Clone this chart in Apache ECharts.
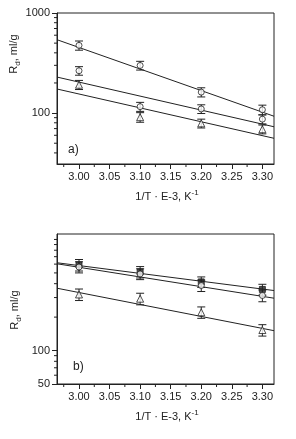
<!DOCTYPE html>
<html>
<head>
<meta charset="utf-8">
<script src="https://cdn.jsdelivr.net/npm/echarts@6/dist/echarts.min.js"></script>
<style>
  html, body { margin: 0; padding: 0; background: #fff; }
  #chart { width: 296px; height: 439px; }
</style>
</head>
<body>
<div id="chart"></div>
<script>
// x positions of the measurements (1/T * 1e3)
const xValues = [3.00, 3.10, 3.20, 3.30];
const xTicks = [3.00, 3.05, 3.10, 3.15, 3.20, 3.25, 3.30];
const xMinorTicks = [2.975, 3.025, 3.075, 3.125, 3.175, 3.225, 3.275];
const fitX = [2.964, 3.319];

// panel a)
const aCircle1 = [475, 299, 162, 108];
const aCircle1Err = [50, 30, 17, 12];
const aCircle2 = [265, 116, 110, 87];
const aCircle2Err = [26, 12, 11, 9];
const aTriangle = [192, 91, 79, 69];
const aTriangleErr = [20, 10, 8, 7];
const aFit1 = [541, 93];
const aFit2 = [229, 73];
const aFit3 = [174, 56];
const aRange = [31, 1000];
const aLabelTicks = [100, 1000];
const aMinorTicks = [40, 50, 60, 70, 80, 90, 200, 300, 400, 500, 600, 700, 800, 900];

// panel b)
const bSquare = [590, 510, 415, 355];
const bSquareErr = [70, 60, 45, 40];
const bCircle = [565, 490, 385, 313];
const bCircleErr = [65, 55, 45, 38];
const bTriangle = [320, 293, 221, 153];
const bTriangleErr = [38, 35, 26, 18];
const bFit1 = [617, 347];
const bFit2 = [604, 296];
const bFit3 = [364, 151];
const bRange = [50, 1120];
const bLabelTicks = [50, 100];
const bMinorTicks = [60, 70, 80, 90, 200, 300, 400, 500, 600, 700, 800, 900, 1000];

const ink = '#222';
const font = 'Liberation Sans';

function errRender(params, api) {
    const x = api.value(0);
    const lo = api.coord([x, api.value(1)]);
    const hi = api.coord([x, api.value(2)]);
    const w = 4;
    const st = { stroke: ink, lineWidth: 1 };
    return {
        type: 'group',
        children: [
            { type: 'line', shape: { x1: lo[0], y1: lo[1], x2: hi[0], y2: hi[1] }, style: st },
            { type: 'line', shape: { x1: lo[0] - w, y1: lo[1], x2: lo[0] + w, y2: lo[1] }, style: st },
            { type: 'line', shape: { x1: hi[0] - w, y1: hi[1], x2: hi[0] + w, y2: hi[1] }, style: st }
        ]
    };
}

function errSeries(vals, errs, xi, yi) {
    return {
        type: 'custom',
        xAxisIndex: xi,
        yAxisIndex: yi,
        renderItem: errRender,
        encode: { x: 0, y: [1, 2] },
        data: xValues.map((x, i) => [x, vals[i] - errs[i], vals[i] + errs[i]]),
        z: 2,
        silent: true
    };
}

// minor ticks, placed through the axes' own scales
function tickSeries(values, dir, len, xi, yi, edge) {
    return {
        type: 'custom',
        xAxisIndex: xi,
        yAxisIndex: yi,
        clip: false,
        silent: true,
        z: 4,
        data: values.map(v => dir === 'y' ? [edge, v] : [v, edge]),
        renderItem: (params, api) => {
            const p = api.coord([api.value(0), api.value(1)]);
            const shape = dir === 'y'
                ? { x1: p[0] - len, y1: p[1], x2: p[0], y2: p[1] }
                : { x1: p[0], y1: p[1], x2: p[0], y2: p[1] + len };
            return { type: 'line', shape: shape, style: { stroke: ink, lineWidth: 1 } };
        }
    };
}

function markSeries(vals, symbol, filled, xi, yi) {
    return {
        type: 'scatter',
        xAxisIndex: xi,
        yAxisIndex: yi,
        symbol: symbol,
        symbolSize: symbol === 'triangle' ? 7 : 6,
        data: xValues.map((x, i) => [x, vals[i]]),
        itemStyle: { color: filled ? ink : '#fff', borderColor: ink, borderWidth: 1 },
        z: 3
    };
}

function fitSeries(vals, xi, yi) {
    return {
        type: 'line',
        xAxisIndex: xi,
        yAxisIndex: yi,
        showSymbol: false,
        symbol: 'none',
        data: fitX.map((x, i) => [x, vals[i]]),
        lineStyle: { color: ink, width: 1 },
        z: 1
    };
}

function xAxis(grid) {
    return {
        type: 'value', gridIndex: grid, min: fitX[0], max: fitX[1], position: 'bottom',
        axisLine: { show: true, onZero: false, lineStyle: { color: ink } },
        axisTick: { show: true, length: 5, customValues: xTicks, lineStyle: { color: ink } },
        axisLabel: { customValues: xTicks, margin: 7, fontFamily: font, fontSize: 11, color: ink,
            formatter: v => v.toFixed(2) },
        splitLine: { show: false }
    };
}

function yAxis(grid, range, labels) {
    return {
        type: 'log', gridIndex: grid, min: range[0], max: range[1], position: 'left',
        axisLine: { show: true, onZero: false, lineStyle: { color: ink } },
        axisTick: { show: true, length: 5, customValues: labels, lineStyle: { color: ink } },
        axisLabel: { customValues: labels, margin: 7, fontFamily: font, fontSize: 11, color: ink,
            formatter: v => String(Math.round(v)) },
        splitLine: { show: false }
    };
}

function yTitle(x, y) {
    return {
        type: 'text', x: x, y: y, rotation: Math.PI / 2,
        style: {
            text: '{r|R}{s|d}{r|, ml/g}',
            align: 'center', verticalAlign: 'middle', fill: ink,
            rich: {
                r: { fontFamily: font, fontSize: 11, lineHeight: 16, fill: ink },
                s: { fontFamily: font, fontSize: 8, lineHeight: 16, verticalAlign: 'bottom', fill: ink }
            }
        }
    };
}

function xTitle(x, y) {
    return {
        type: 'text', x: x, y: y,
        style: {
            text: '{r|1/T · E-3, K}{s|-1}',
            align: 'center', verticalAlign: 'middle', fill: ink,
            rich: {
                r: { fontFamily: font, fontSize: 11, lineHeight: 16, fill: ink },
                s: { fontFamily: font, fontSize: 8, lineHeight: 16, verticalAlign: 'top', fill: ink }
            }
        }
    };
}

const chart = echarts.init(document.getElementById('chart'));
chart.setOption({
    animation: false,
    backgroundColor: '#fff',
    grid: [
        { left: 57, top: 13, width: 217, height: 151, show: true, borderColor: ink, borderWidth: 1 },
        { left: 57, top: 234, width: 217, height: 150, show: true, borderColor: ink, borderWidth: 1 }
    ],
    xAxis: [xAxis(0), xAxis(1)],
    yAxis: [yAxis(0, aRange, aLabelTicks), yAxis(1, bRange, bLabelTicks)],
    series: [
        fitSeries(aFit1, 0, 0),
        fitSeries(aFit2, 0, 0),
        fitSeries(aFit3, 0, 0),
        errSeries(aCircle1, aCircle1Err, 0, 0),
        errSeries(aCircle2, aCircle2Err, 0, 0),
        errSeries(aTriangle, aTriangleErr, 0, 0),
        markSeries(aCircle1, 'circle', false, 0, 0),
        markSeries(aCircle2, 'circle', false, 0, 0),
        markSeries(aTriangle, 'triangle', false, 0, 0),
        tickSeries(aMinorTicks, 'y', 3, 0, 0, fitX[0]),
        tickSeries(xMinorTicks, 'x', 3, 0, 0, aRange[0]),

        fitSeries(bFit1, 1, 1),
        fitSeries(bFit2, 1, 1),
        fitSeries(bFit3, 1, 1),
        errSeries(bSquare, bSquareErr, 1, 1),
        errSeries(bCircle, bCircleErr, 1, 1),
        errSeries(bTriangle, bTriangleErr, 1, 1),
        markSeries(bSquare, 'rect', true, 1, 1),
        markSeries(bCircle, 'circle', false, 1, 1),
        markSeries(bTriangle, 'triangle', false, 1, 1),
        tickSeries(bMinorTicks, 'y', 3, 1, 1, fitX[0]),
        tickSeries(xMinorTicks, 'x', 3, 1, 1, bRange[0])
    ],
    graphic: [
        yTitle(14, 54),
        yTitle(15, 310),
        xTitle(167, 197),
        xTitle(167, 417),
        { type: 'text', x: 68, y: 144, style: { text: 'a)', fontFamily: font, fontSize: 12, fill: ink } },
        { type: 'text', x: 73, y: 361, style: { text: 'b)', fontFamily: font, fontSize: 12, fill: ink } }
    ]
});
</script>
</body>
</html>
